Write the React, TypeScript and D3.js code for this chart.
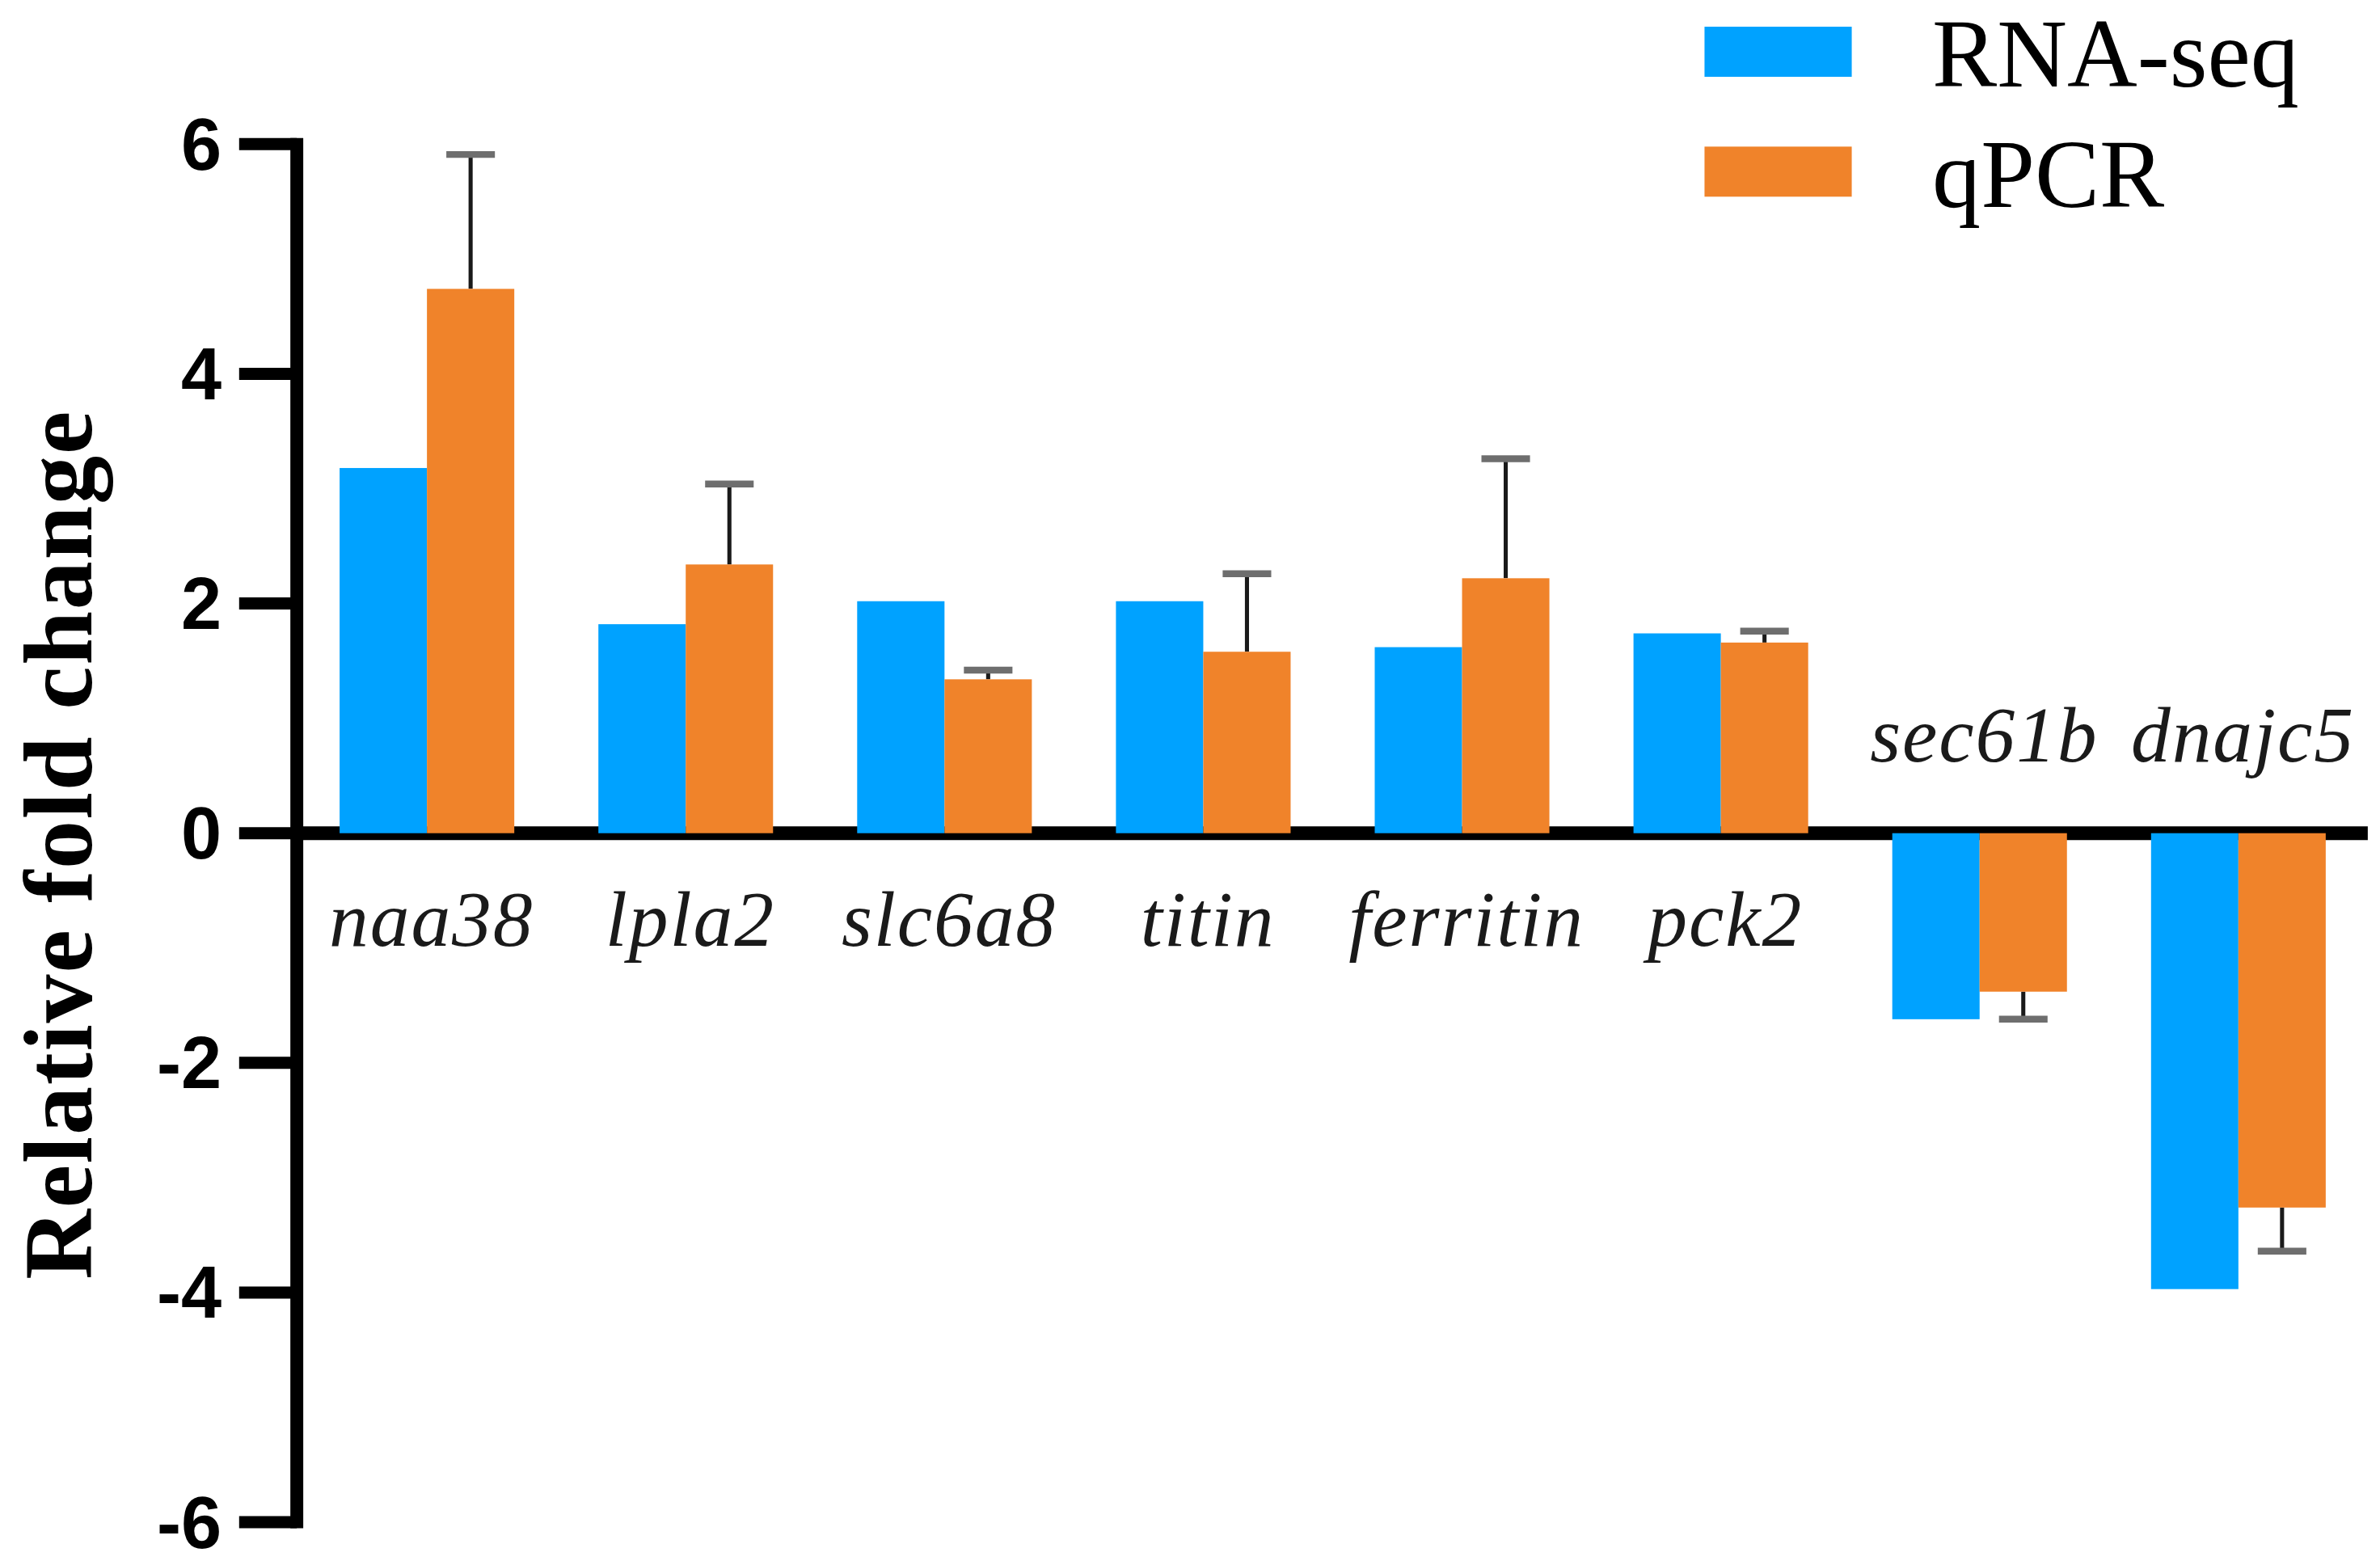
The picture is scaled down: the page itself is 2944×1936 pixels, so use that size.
import React, { useEffect, useRef } from 'react';
import * as d3 from 'd3';

// values
const genes = ['naa38', 'lpla2', 'slc6a8', 'titin', 'ferritin', 'pck2', 'sec61b', 'dnajc5'];
const rnaSeq = [3.18, 1.82, 2.02, 2.02, 1.62, 1.74, -1.62, -3.97];
const qpcr = [4.74, 2.34, 1.34, 1.58, 2.22, 1.66, -1.38, -3.26];
const qpcrErr = [1.17, 0.7, 0.08, 0.68, 1.04, 0.1, 0.24, 0.38];
const yTicks = [-6, -4, -2, 0, 2, 4, 6];
const seriesNames = ['RNA-seq', 'qPCR'];
const seriesColors = ['#00A2FF', '#F0832A'];

const W = 1568;
const H = 1031.2;

const App: React.FC = () => {
	const ref = useRef<SVGSVGElement>(null);

	useEffect(() => {
		if (!ref.current) return;
		const svg = d3.select(ref.current);
		svg.selectAll('*').remove();

		const y = d3.scaleLinear().domain([-6, 6]).range([1003, 95]);
		const x = d3
			.scaleBand<string>()
			.domain(genes)
			.range([196, 1560])
			.paddingInner(0.325)
			.paddingOuter(0.1625);
		const xs = d3
			.scaleBand<string>()
			.domain(seriesNames)
			.range([0, x.bandwidth()]);
		const color = d3.scaleOrdinal<string, string>().domain(seriesNames).range(seriesColors);

		const rows = genes.map((g, i) => ({
			gene: g,
			values: [
				{ key: seriesNames[0], v: rnaSeq[i] },
				{ key: seriesNames[1], v: qpcr[i] },
			],
			err: qpcrErr[i],
		}));

		// zero line
		svg
			.append('line')
			.attr('x1', 192)
			.attr('x2', 1560)
			.attr('y1', y(0))
			.attr('y2', y(0))
			.attr('stroke', '#000')
			.attr('stroke-width', 9);

		// y axis
		const axisX = 195.5;
		svg
			.append('line')
			.attr('x1', axisX)
			.attr('x2', axisX)
			.attr('y1', y(6) - 4)
			.attr('y2', y(-6) + 4)
			.attr('stroke', '#000')
			.attr('stroke-width', 8.5);

		const tick = svg.append('g').selectAll('g').data(yTicks).enter().append('g');
		tick
			.append('line')
			.attr('x1', 157.5)
			.attr('x2', axisX)
			.attr('y1', (d) => y(d))
			.attr('y2', (d) => y(d))
			.attr('stroke', '#000')
			.attr('stroke-width', 8);
		tick
			.append('text')
			.attr('x', 146)
			.attr('y', (d) => y(d))
			.attr('dy', '0.35em')
			.attr('text-anchor', 'end')
			.style('font-family', '"Liberation Sans", Arial, sans-serif')
			.style('font-weight', 'bold')
			.style('font-size', '48px')
			.text((d) => `${d}`);

		// bars
		const group = svg
			.append('g')
			.selectAll('g')
			.data(rows)
			.enter()
			.append('g')
			.attr('transform', (d) => `translate(${x(d.gene)},0)`);

		// error bars (qPCR only, one-sided)
		group.each(function (d) {
			const g = d3.select(this);
			const cx = (xs('qPCR') ?? 0) + xs.bandwidth() / 2;
			const end = d.values[1].v + Math.sign(d.values[1].v) * d.err;
			g.append('line')
				.attr('x1', cx)
				.attr('x2', cx)
				.attr('y1', y(d.values[1].v))
				.attr('y2', y(end))
				.attr('stroke', '#1a1a1a')
				.attr('stroke-width', 2.7);
			g.append('line')
				.attr('x1', cx - 16)
				.attr('x2', cx + 16)
				.attr('y1', y(end))
				.attr('y2', y(end))
				.attr('stroke', '#6e6e6e')
				.attr('stroke-width', 4.5);
		});

		group
			.selectAll('rect')
			.data((d) => d.values)
			.enter()
			.append('rect')
			.attr('x', (d) => xs(d.key) ?? 0)
			.attr('width', xs.bandwidth())
			.attr('y', (d) => (d.v >= 0 ? y(d.v) : y(0)))
			.attr('height', (d) => Math.abs(y(d.v) - y(0)))
			.attr('fill', (d) => color(d.key));

		// gene labels: under the axis for up-regulated, above it for down-regulated
		group
			.append('text')
			.attr('x', x.bandwidth() / 2 + 3)
			.attr('y', (d) => (d.values[0].v >= 0 ? 623 : 502))
			.attr('text-anchor', 'middle')
			.style('font-family', '"Liberation Serif", "Times New Roman", serif')
			.style('font-style', 'italic')
			.style('font-size', '52px')
			.style('letter-spacing', '1px')
			.attr('fill', '#1a1a1a')
			.text((d) => d.gene);

		// y title
		svg
			.append('text')
			.attr('transform', 'translate(60,557) rotate(-90)')
			.attr('text-anchor', 'middle')
			.attr('textLength', 572)
			.attr('lengthAdjust', 'spacing')
			.style('font-family', '"Liberation Serif", "Times New Roman", serif')
			.style('font-weight', 'bold')
			.style('font-size', '64px')
			.text('Relative fold change');

		// legend
		const legend = svg
			.append('g')
			.selectAll('g')
			.data(seriesNames)
			.enter()
			.append('g')
			.attr('transform', (d, i) => `translate(1123,${17.6 + i * 79})`);
		legend
			.append('rect')
			.attr('width', 97)
			.attr('height', 33)
			.attr('fill', (d) => color(d));
		legend
			.append('text')
			.attr('x', 150)
			.attr('y', 39.5)
			.style('font-family', '"Liberation Serif", "Times New Roman", serif')
			.style('font-size', '64px')
			.text((d) => d);
	}, []);

	return (
		<svg
			ref={ref}
			width={2944}
			height={1936}
			viewBox={`0 0 ${W} ${H}`}
			style={{ position: 'absolute', left: 0, top: 0, background: '#fff' }}
		/>
	);
};

export default App;
